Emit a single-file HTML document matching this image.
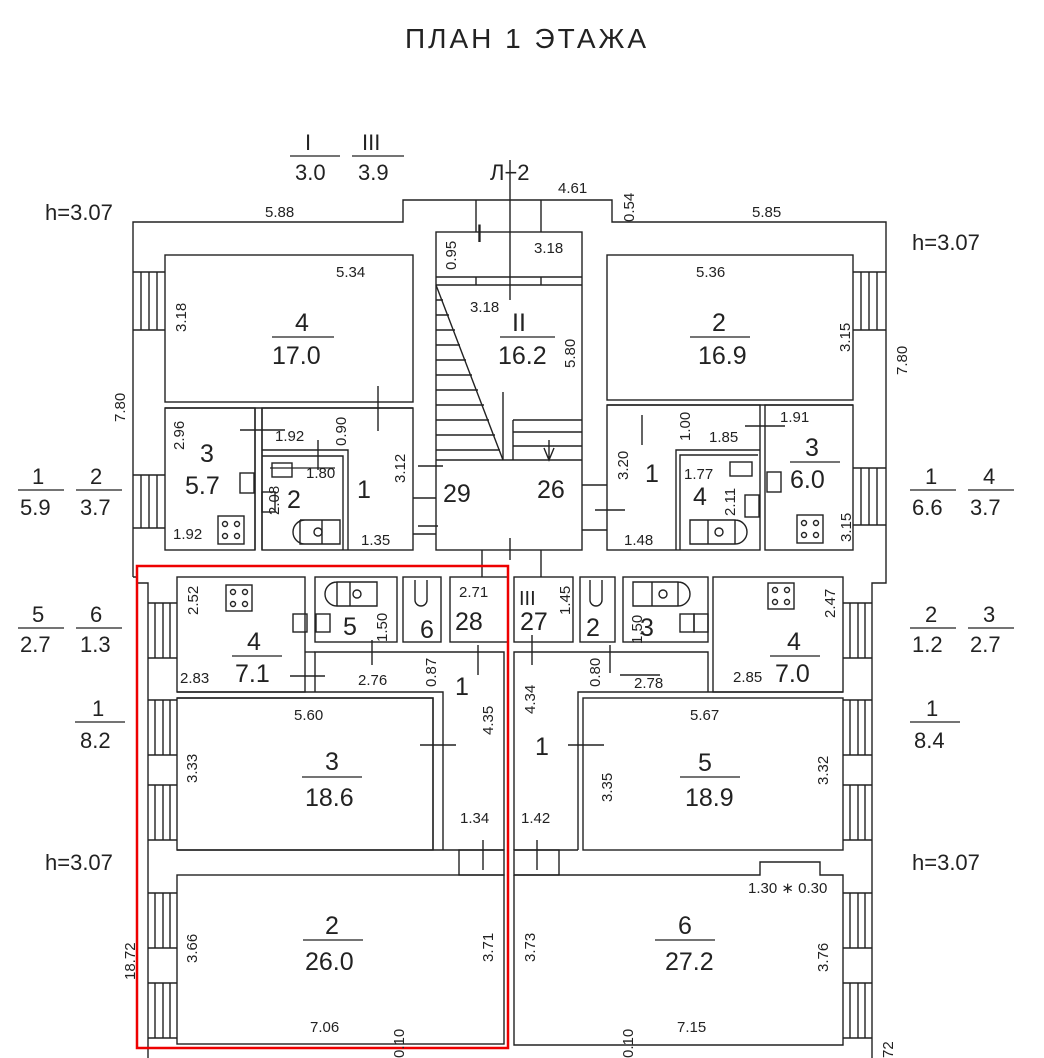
<!DOCTYPE html>
<html><head><meta charset="utf-8"><style>
html,body{margin:0;padding:0;background:#fff}
svg{display:block}
text{font-family:"Liberation Sans",sans-serif;fill:#222}
.d{font-size:15px}
.n{font-size:25px}
.t{font-size:22px}
</style></head><body>
<svg width="1044" height="1058" viewBox="0 0 1044 1058" xmlns="http://www.w3.org/2000/svg">
<g fill="none" stroke="#222" stroke-width="1.4">
<polyline points="133,577 133,222 403,222 403,200 612,200 612,222 886,222 886,583 872,583 872,1058"/>
<polyline points="133,577 137,577 137,583 148,583 148,1058"/>
<rect x="165" y="255" width="248" height="147"/>
<line x1="165" y1="408" x2="413" y2="408"/>
<rect x="165" y="408" width="90" height="142"/>
<rect x="262" y="408" width="151" height="142"/>
<line x1="255" y1="408" x2="255" y2="550"/><line x1="262" y1="408" x2="262" y2="550"/>
<polyline points="262,450 348,450 348,550"/><polyline points="262,456 343,456 343,550"/>
<rect x="272" y="463" width="20" height="14"/><rect x="262" y="492" width="13" height="20"/><rect x="240" y="473" width="14" height="20"/>
<path d="M300,520 h40 v24 h-40 v-24 M305,520 a12,12 0 0 0 0,24 M322,520 v24"/>
<circle cx="318" cy="532" r="4"/>
<rect x="218" y="516" width="26" height="28"/>
<circle cx="225" cy="524" r="2.5"/><circle cx="237" cy="524" r="2.5"/><circle cx="225" cy="536" r="2.5"/><circle cx="237" cy="536" r="2.5"/>
<rect x="436" y="232" width="146" height="318"/>
<line x1="436" y1="277" x2="582" y2="277"/><line x1="436" y1="285" x2="582" y2="285"/>
<line x1="476" y1="200" x2="476" y2="232"/><line x1="541" y1="200" x2="541" y2="232"/>
<line x1="476" y1="277" x2="476" y2="285"/><line x1="541" y1="277" x2="541" y2="285"/>
<line x1="436" y1="460" x2="582" y2="460"/>
<line x1="436" y1="285" x2="503" y2="460"/>
<path d="M436,300h7M436,315h13M436,330h19M436,345h24M436,360h30M436,375h36M436,390h42M436,405h48M436,420h53M436,435h59M436,450h64"/>
<path d="M503,392v68M513,420h69M513,420v40M513,432h69M513,446h69"/>
<path d="M549,440v20M544,448l5,12l5,-12"/>
<line x1="510" y1="160" x2="510" y2="300"/>
<line x1="413" y1="498" x2="436" y2="498"/><line x1="413" y1="534" x2="436" y2="534"/>
<line x1="582" y1="485" x2="607" y2="485"/><line x1="582" y1="530" x2="607" y2="530"/>
<line x1="510" y1="538" x2="510" y2="560"/>
<line x1="482" y1="550" x2="482" y2="577"/><line x1="541" y1="550" x2="541" y2="577"/>
<rect x="607" y="255" width="246" height="145"/>
<line x1="607" y1="405" x2="853" y2="405"/>
<rect x="607" y="405" width="153" height="145"/>
<rect x="765" y="405" width="88" height="145"/>
<polyline points="676,550 676,450 760,450"/><polyline points="680,550 680,455 758,455"/>
<rect x="730" y="462" width="22" height="14"/><rect x="745" y="495" width="14" height="22"/><rect x="767" y="472" width="14" height="20"/>
<path d="M690,520 h45 v24 h-45 z M708,520 v24 M735,520 a12,12 0 0 1 0,24"/>
<circle cx="719" cy="532" r="4"/>
<rect x="797" y="515" width="26" height="28"/>
<circle cx="804" cy="523" r="2.5"/><circle cx="816" cy="523" r="2.5"/><circle cx="804" cy="535" r="2.5"/><circle cx="816" cy="535" r="2.5"/>
<path d="M133,272h32M133,330h32M141,272v58M149,272v58M157,272v58"/>
<path d="M133,475h32M133,528h32M141,475v53M149,475v53M157,475v53"/>
<path d="M853,272h33M853,330h33M861,272v58M869,272v58M877,272v58"/>
<path d="M853,468h33M853,525h33M861,468v57M869,468v57M877,468v57"/>
<rect x="177" y="577" width="128" height="115"/>
<rect x="315" y="577" width="82" height="65"/>
<rect x="403" y="577" width="38" height="65"/>
<rect x="450" y="577" width="58" height="65"/>
<polyline points="315,692 315,652 504,652 504,850"/>
<line x1="305" y1="652" x2="315" y2="652"/>
<polyline points="177,698 433,698 433,850"/><polyline points="177,692 443,692 443,850"/>
<rect x="177" y="698" width="256" height="152"/>
<line x1="177" y1="850" x2="504" y2="850"/>
<rect x="459" y="850" width="45" height="25"/>
<rect x="177" y="875" width="327" height="169"/>
<rect x="226" y="585" width="26" height="26"/>
<circle cx="233" cy="592" r="2.5"/><circle cx="245" cy="592" r="2.5"/><circle cx="233" cy="604" r="2.5"/><circle cx="245" cy="604" r="2.5"/>
<rect x="293" y="614" width="14" height="18"/><rect x="316" y="614" width="14" height="18"/>
<path d="M337,582h40v24h-40z M350,582v24 M337,582a12,12 0 0 0 0,24"/>
<circle cx="357" cy="594" r="4"/>
<path d="M415,580v20a6,6 0 0 0 12,0v-20"/>
<path d="M148,603h29M148,658h29M155,603v55M163,603v55M170,603v55"/>
<path d="M148,700h29M148,755h29M155,700v55M163,700v55M170,700v55"/>
<path d="M148,785h29M148,840h29M155,785v55M163,785v55M170,785v55"/>
<path d="M148,893h29M148,948h29M155,893v55M163,893v55M170,893v55"/>
<path d="M148,983h29M148,1038h29M155,983v55M163,983v55M170,983v55"/>
<rect x="514" y="577" width="59" height="65"/>
<rect x="580" y="577" width="35" height="65"/>
<rect x="623" y="577" width="85" height="65"/>
<rect x="713" y="577" width="130" height="115"/>
<polyline points="708,692 708,652 514,652 514,850"/>
<polyline points="578,850 578,692 843,692"/>
<rect x="583" y="698" width="260" height="152"/>
<line x1="514" y1="850" x2="578" y2="850"/>
<rect x="514" y="850" width="45" height="25"/>
<polyline points="514,875 760,875 760,862 820,862 820,875 843,875 843,1045 514,1045 514,875"/>
<rect x="768" y="583" width="26" height="26"/>
<circle cx="775" cy="590" r="2.5"/><circle cx="787" cy="590" r="2.5"/><circle cx="775" cy="602" r="2.5"/><circle cx="787" cy="602" r="2.5"/>
<rect x="694" y="614" width="14" height="18"/><rect x="680" y="614" width="14" height="18"/>
<path d="M633,582h45v24h-45z M652,582v24 M678,582a12,12 0 0 1 0,24"/>
<circle cx="663" cy="594" r="4"/>
<path d="M590,580v20a6,6 0 0 0 12,0v-20"/>
<path d="M843,603h29M843,658h29M850,603v55M858,603v55M865,603v55"/>
<path d="M843,700h29M843,755h29M850,700v55M858,700v55M865,700v55"/>
<path d="M843,785h29M843,840h29M850,785v55M858,785v55M865,785v55"/>
<path d="M843,893h29M843,948h29M850,893v55M858,893v55M865,893v55"/>
<path d="M843,983h29M843,1038h29M850,983v55M858,983v55M865,983v55"/>
<path d="M378,386v45M240,430h45M318,440v30M418,466h25M595,510h30M642,415v30M745,426h40M418,526h20M290,676h35M372,640v25M620,675h40M610,645v28M478,645v30M532,635v30M420,745h36M568,745h36M483,840v30M537,840v30"/>
</g>
<rect x="137" y="566" width="371" height="482" fill="none" stroke="#e00" stroke-width="2.5"/>
<g stroke="#222" stroke-width="1.2">
<path d="M290,156h50M352,156h52M272,337h62M500,337h55M690,337h60M270,468h65M790,462h50M18,490h46M76,490h46M910,490h46M968,490h46M18,628h46M76,628h46M910,628h46M968,628h46M75,722h50M910,722h50M232,656h50M770,656h50M302,777h60M680,777h60M303,940h60M655,940h60"/>
</g>
<text x="405" y="48" style="font-size:28px;letter-spacing:3px">ПЛАН 1 ЭТАЖА</text>
<g class="t">
<text x="305" y="150">I</text><text x="362" y="150">III</text>
<text x="295" y="180">3.0</text><text x="358" y="180">3.9</text>
<text x="490" y="180">Л−2</text>
<text x="45" y="220">h=3.07</text><text x="912" y="250">h=3.07</text>
<text x="45" y="870">h=3.07</text><text x="912" y="870">h=3.07</text>
<text x="32" y="484">1</text><text x="90" y="484">2</text><text x="20" y="515">5.9</text><text x="80" y="515">3.7</text>
<text x="925" y="484">1</text><text x="983" y="484">4</text><text x="912" y="515">6.6</text><text x="970" y="515">3.7</text>
<text x="32" y="622">5</text><text x="90" y="622">6</text><text x="20" y="652">2.7</text><text x="80" y="652">1.3</text>
<text x="925" y="622">2</text><text x="983" y="622">3</text><text x="912" y="652">1.2</text><text x="970" y="652">2.7</text>
<text x="92" y="716">1</text><text x="80" y="748">8.2</text>
<text x="926" y="716">1</text><text x="914" y="748">8.4</text>
</g>
<g class="n">
<text x="295" y="331">4</text><text x="272" y="364">17.0</text>
<text x="512" y="331">II</text><text x="498" y="364">16.2</text>
<text x="712" y="331">2</text><text x="698" y="364">16.9</text>
<text x="200" y="462">3</text><text x="185" y="494">5.7</text>
<text x="287" y="508">2</text><text x="357" y="498">1</text>
<text x="476" y="242">I</text>
<text x="443" y="502">29</text><text x="537" y="498">26</text>
<text x="645" y="482">1</text><text x="693" y="505">4</text>
<text x="805" y="456">3</text><text x="790" y="488">6.0</text>
<text x="247" y="650">4</text><text x="235" y="682">7.1</text>
<text x="343" y="635">5</text><text x="420" y="638">6</text><text x="455" y="630">28</text>
<text x="520" y="630">27</text><text x="586" y="636">2</text><text x="640" y="636">3</text>
<text x="787" y="650">4</text><text x="775" y="682">7.0</text>
<text x="455" y="695">1</text><text x="535" y="755">1</text>
<text x="325" y="770">3</text><text x="305" y="806">18.6</text>
<text x="698" y="771">5</text><text x="685" y="806">18.9</text>
<text x="325" y="934">2</text><text x="305" y="970">26.0</text>
<text x="678" y="934">6</text><text x="665" y="970">27.2</text>
<text x="519" y="605" style="font-size:20px">III</text>
</g>
<g class="d">
<text x="265" y="217">5.88</text><text x="752" y="217">5.85</text><text x="558" y="193">4.61</text>
<text x="336" y="277">5.34</text><text x="696" y="277">5.36</text>
<text x="534" y="253">3.18</text><text x="470" y="312">3.18</text>
<text x="275" y="441">1.92</text><text x="306" y="478">1.80</text><text x="361" y="545">1.35</text><text x="173" y="539">1.92</text>
<text x="709" y="442">1.85</text><text x="780" y="422">1.91</text><text x="684" y="479">1.77</text><text x="624" y="545">1.48</text>
<text x="459" y="597">2.71</text><text x="180" y="683">2.83</text><text x="358" y="685">2.76</text><text x="634" y="688">2.78</text><text x="733" y="682">2.85</text>
<text x="294" y="720">5.60</text><text x="690" y="720">5.67</text>
<text x="460" y="823">1.34</text><text x="521" y="823">1.42</text>
<text x="748" y="893">1.30 ∗ 0.30</text>
<text x="310" y="1032">7.06</text><text x="677" y="1032">7.15</text>
</g>
<g class="d">
<text transform="translate(186,332) rotate(-90)">3.18</text>
<text transform="translate(125,422) rotate(-90)">7.80</text>
<text transform="translate(456,270) rotate(-90)">0.95</text>
<text transform="translate(634,222) rotate(-90)">0.54</text>
<text transform="translate(575,368) rotate(-90)">5.80</text>
<text transform="translate(850,352) rotate(-90)">3.15</text>
<text transform="translate(907,375) rotate(-90)">7.80</text>
<text transform="translate(184,450) rotate(-90)">2.96</text>
<text transform="translate(346,446) rotate(-90)">0.90</text>
<text transform="translate(279,515) rotate(-90)">2.08</text>
<text transform="translate(405,483) rotate(-90)">3.12</text>
<text transform="translate(628,480) rotate(-90)">3.20</text>
<text transform="translate(690,441) rotate(-90)">1.00</text>
<text transform="translate(735,516) rotate(-90)">2.11</text>
<text transform="translate(851,542) rotate(-90)">3.15</text>
<text transform="translate(198,615) rotate(-90)">2.52</text>
<text transform="translate(387,642) rotate(-90)">1.50</text>
<text transform="translate(436,687) rotate(-90)">0.87</text>
<text transform="translate(570,615) rotate(-90)">1.45</text>
<text transform="translate(600,687) rotate(-90)">0.80</text>
<text transform="translate(642,644) rotate(-90)">1.50</text>
<text transform="translate(835,618) rotate(-90)">2.47</text>
<text transform="translate(493,735) rotate(-90)">4.35</text>
<text transform="translate(535,714) rotate(-90)">4.34</text>
<text transform="translate(197,783) rotate(-90)">3.33</text>
<text transform="translate(612,802) rotate(-90)">3.35</text>
<text transform="translate(828,785) rotate(-90)">3.32</text>
<text transform="translate(197,963) rotate(-90)">3.66</text>
<text transform="translate(493,962) rotate(-90)">3.71</text>
<text transform="translate(535,962) rotate(-90)">3.73</text>
<text transform="translate(828,972) rotate(-90)">3.76</text>
<text transform="translate(135,980) rotate(-90)">18.72</text>
<text transform="translate(404,1058) rotate(-90)">0.10</text>
<text transform="translate(633,1058) rotate(-90)">0.10</text>
<text transform="translate(893,1058) rotate(-90)">72</text>
</g>
</svg>
</body></html>
